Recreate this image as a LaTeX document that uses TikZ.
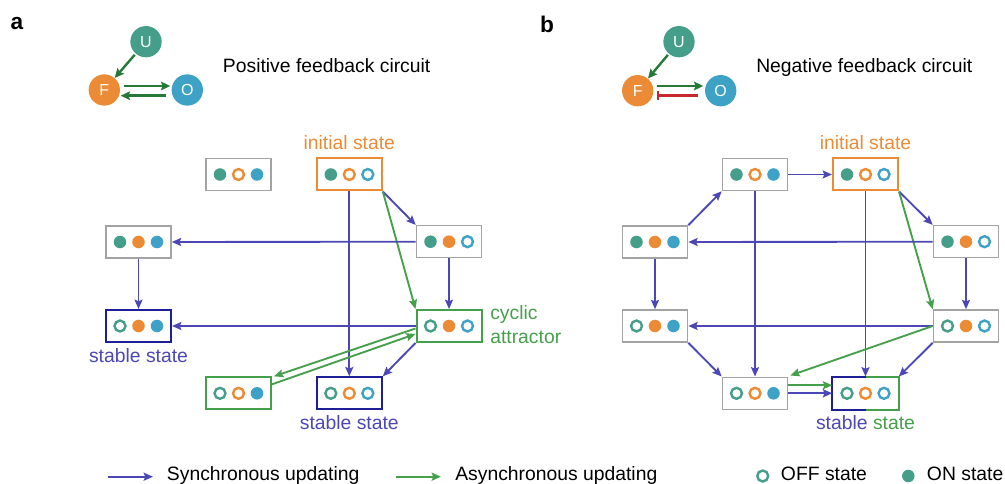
\documentclass[tikz,border=0pt]{standalone}
\usepackage{fontspec}
\setmainfont{Liberation Sans}
\usetikzlibrary{calc,arrows.meta}
\definecolor{tealc}{HTML}{459E8A}
\definecolor{orangec}{HTML}{EC8B35}
\definecolor{bluec}{HTML}{3EA2C7}
\definecolor{grayc}{HTML}{A3A3A3}
\definecolor{syncc}{HTML}{4B47B5}
\definecolor{asyncc}{HTML}{46A04B}
\definecolor{navyc}{HTML}{1E1E96}
\definecolor{dgreenc}{HTML}{267A38}
\definecolor{redc}{HTML}{C8282D}
\newcommand\stbox[7]{%
  \node[stbox,#4] (#1) at (#2,#3) {};
  \node[#5=tealc] (#1-1) at ($(#1)+(-18.5,0)$) {};
  \node[#6=orangec] (#1-2) at (#1) {};
  \node[#7=bluec] (#1-3) at ($(#1)+(18.5,0)$) {};
}
\begin{document}
\begin{tikzpicture}[x=0.75pt,y=-0.75pt,
  txt/.style={inner sep=0,font=\fontsize{14.5}{17.5}\selectfont},
  stbox/.style={rectangle,minimum width=48.75pt,minimum height=24pt,inner sep=0,line width=1.2pt},
  grayb/.style={draw=grayc},
  orangeb/.style={draw=orangec,line width=1.5pt},
  navyb/.style={draw=navyc,line width=1.5pt},
  greenb/.style={draw=asyncc,line width=1.5pt},
  stOn/.style={circle,fill=#1,minimum size=9.4pt,inner sep=0},
  stOff/.style={circle,draw=#1,line width=1.8pt,minimum size=8.2pt,inner sep=0},
  sync/.style={draw=syncc,line width=1.4pt,-{Stealth[length=7pt,width=6pt,inset=1.2pt]}},
  async/.style={draw=asyncc,line width=1.4pt,-{Stealth[length=7pt,width=6pt,inset=1.2pt]}},
  gnode/.style={circle,minimum size=23.5pt,inner sep=0,text=white,font=\fontsize{12}{14}\selectfont},
  garrow/.style={draw=dgreenc,line width=1.8pt,-{Stealth[length=7pt,width=6.5pt,inset=1.2pt]}},
  rarrow/.style={draw=redc,line width=1.8pt,-{Bar[width=6.5pt]}},
  panel/.style={inner sep=0,font=\fontsize{17}{20}\selectfont\bfseries}
]
\useasboundingbox (0,0) rectangle (1005,484);

% ---------- panel labels ----------
\node[panel] (pa) at (17,24) {a};
\node[panel] (pb) at (547,24) {b};

% ---------- headers ----------
\node[gnode,fill=tealc] (aU) at (146,41.7) {U};
\node[gnode,fill=orangec] (aF) at (104.3,90) {F};
\node[gnode,fill=bluec] (aO) at (187.3,90) {O};
\draw[garrow,shorten <=1pt] (aU) -- (aF);
\draw[garrow] ($(aF.center)+(20,-4)$) -- ($(aO.center)+(-17,-4)$);
\draw[garrow] ($(aO.center)+(-21,5.7)$) -- ($(aF.center)+(16.4,5.7)$);
\node[txt,anchor=base west] (ta) at (222.7,72.5) {Positive feedback circuit};

\node[gnode,fill=tealc] (bU) at (679,41.7) {U};
\node[gnode,fill=orangec] (bF) at (637.7,90.7) {F};
\node[gnode,fill=bluec] (bO) at (720.7,90.7) {O};
\draw[garrow,shorten <=1pt] (bU) -- (bF);
\draw[garrow] ($(bF.center)+(19,-4.7)$) -- ($(bO.center)+(-17.4,-4.7)$);
\draw[rarrow] ($(bO.center)+(-22.4,5)$) -- ($(bF.center)+(19,5)$);
\node[txt,anchor=base west] (tb) at (756,72.5) {Negative feedback circuit};

% ---------- panel a states ----------
\stbox{a1}{238.5}{174.5}{grayb}{stOn}{stOff}{stOn}
\stbox{a2}{349.3}{174.5}{orangeb}{stOn}{stOff}{stOff}
\stbox{a3}{449}{241.7}{grayb}{stOn}{stOn}{stOff}
\stbox{a4}{138.5}{242}{grayb}{stOn}{stOn}{stOn}
\stbox{a5}{138.5}{326}{navyb}{stOff}{stOn}{stOn}
\stbox{a6}{449}{326}{greenb}{stOff}{stOn}{stOff}
\stbox{a7}{238.5}{393.3}{greenb}{stOff}{stOff}{stOn}
\stbox{a8}{349.3}{393.3}{navyb}{stOff}{stOff}{stOff}

\node[txt,anchor=base,text=orangec] (la2) at (349.3,150) {initial state};
\node[txt,anchor=base,text=syncc] (la5) at (138.5,362) {stable state};
\node[txt,anchor=base,text=syncc] (la8) at (349.3,429.3) {stable state};
\node[txt,anchor=north west,text=asyncc,align=left,font=\fontsize{14.5}{17.7}\selectfont] (la6) at (490,305.5) {cyclic\\attractor};

\draw[sync] (a2.south) -- (a8.north);
\draw[sync] (a2.south east) -- (a3.north west);
\draw[async] (a2.south east) -- (a6.north west);
\draw[sync] (a3.south) -- (a6.north);
\draw[sync] (a3.west) -- (a4.east);
\draw[sync] (a4.south) -- (a5.north);
\draw[sync] (a6.west) -- (a5.east);
\draw[sync] (a6.south west) -- (a8.north east);
\draw[async] ($(a6.west)+(0,2.5)$) -- ($(a7.north east)+(2,0)$);
\draw[async] ($(a7.east)+(0,-9)$) -- ($(a6.west)+(0,8)$);

% ---------- panel b states ----------
\stbox{b1}{755}{174.5}{grayb}{stOn}{stOff}{stOn}
\stbox{b2}{865.5}{174.5}{orangeb}{stOn}{stOff}{stOff}
\stbox{b3}{966}{241.7}{grayb}{stOn}{stOn}{stOff}
\stbox{b4}{655}{242}{grayb}{stOn}{stOn}{stOn}
\stbox{b5}{655}{326}{grayb}{stOff}{stOn}{stOn}
\stbox{b6}{966}{326}{grayb}{stOff}{stOn}{stOff}
\stbox{b7}{755}{393.3}{grayb}{stOff}{stOff}{stOn}
\stbox{b8}{865.5}{393.3}{}{stOff}{stOff}{stOff}
\draw[draw=navyc,line width=1.5pt] (b8.north) -- (b8.north west) -- (b8.south west) -- (b8.south);
\draw[draw=asyncc,line width=1.5pt] (b8.north) -- (b8.north east) -- (b8.south east) -- (b8.south);

\node[txt,anchor=base,text=orangec] (lb2) at (865.5,150) {initial state};
\node[txt,anchor=base] (lb8) at (865.5,429.3) {\textcolor{syncc}{stable} \textcolor{asyncc}{state}};

\draw[sync] (b1.east) -- (b2.west);
\draw[sync] (b4.north east) -- (b1.south west);
\draw[sync] (b2.south east) -- (b3.north west);
\draw[async] (b2.south east) -- (b6.north west);
\draw[sync] (b3.south) -- (b6.north);
\draw[sync] (b3.west) -- (b4.east);
\draw[sync] (b4.south) -- (b5.north);
\draw[sync] (b6.west) -- (b5.east);
\draw[sync] (b1.south) -- (b7.north);
\draw[sync] (b2.south) -- (b8.north);
\draw[sync] (b5.south east) -- (b7.north west);
\draw[sync] (b6.south west) -- (b8.north east);
\draw[async] (b6.west) -- ($(b7.north east)+(2,-1)$);
\draw[async] ($(b7.east)+(0,-8)$) -- ($(b8.west)+(0,-8)$);
\draw[sync] (b7.east) -- (b8.west);

% ---------- legend ----------
\coordinate (ls1) at (108,476.7);
\coordinate (ls2) at (153,476.7);
\draw[sync] (ls1) -- (ls2);
\node[txt,anchor=base west] (lgs) at (166.7,480.6) {Synchronous updating};
\coordinate (la1) at (396,476.7);
\coordinate (la2c) at (441,476.7);
\draw[async] (la1) -- (la2c);
\node[txt,anchor=base west] (lga) at (455,480.6) {Asynchronous updating};
\node[stOff=tealc] (loff) at (762.7,476) {};
\node[txt,anchor=base west] (lgoff) at (780.7,480.6) {OFF state};
\node[stOn=tealc] (lon) at (908.3,476) {};
\node[txt,anchor=base west] (lgon) at (926.7,480.6) {ON state};
\end{tikzpicture}
\end{document}
